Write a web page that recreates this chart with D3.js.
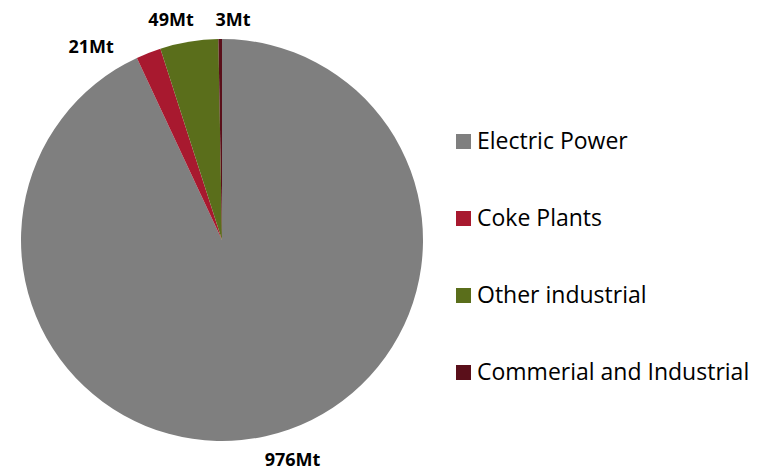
<!DOCTYPE html>
<html><head><meta charset="utf-8">
<script src="https://cdn.jsdelivr.net/npm/d3@7"></script>
<style>html,body{margin:0;padding:0;background:#fff;}svg{display:block;}</style>
</head><body>
<svg id="chart" width="764" height="470"></svg>
<script>
const categories = ["Electric Power", "Coke Plants", "Other industrial", "Commerial and Industrial"];
const values = [976, 21, 49, 3];
const valueLabels = ["976Mt", "21Mt", "49Mt", "3Mt"];
const colors = ["#7f7f7f", "#a8192f", "#5a6e1b", "#5a0f1a"];
// label nudges (layout) relative to the outside-end position
const labelNudge = [[23.5, 7.5], [-51.5, 8], [-15.4, -7], [13, -4]];

const svg = d3.select("#chart");
const cx = 222, cy = 240, r = 201;
const g = svg.append("g").attr("transform", `translate(${cx},${cy})`);

const pie = d3.pie().sort(null).value(d => d)(values);
const arc = d3.arc().innerRadius(0).outerRadius(r);

g.selectAll("path").data(pie).join("path")
  .attr("d", arc)
  .attr("fill", (d, i) => colors[i]);

const labelArc = d3.arc().innerRadius(r + 16).outerRadius(r + 16);
g.selectAll("text.val").data(pie).join("text")
  .attr("class", "val")
  .attr("x", (d, i) => labelArc.centroid(d)[0] + labelNudge[i][0])
  .attr("y", (d, i) => labelArc.centroid(d)[1] + labelNudge[i][1])
  .attr("text-anchor", "middle")
  .attr("dominant-baseline", "central")
  .attr("font-family", "'Open Sans', sans-serif")
  .attr("font-weight", "bold")
  .attr("font-size", 18)
  .attr("fill", "#000")
  .text((d, i) => valueLabels[i]);

const legY = d3.scalePoint().domain(categories).range([141.5, 372.5]);
const leg = svg.append("g");
const items = leg.selectAll("g").data(categories).join("g")
  .attr("transform", d => `translate(456,${legY(d)})`);
items.append("rect").attr("x", 0).attr("y", -7.5).attr("width", 15).attr("height", 15)
  .attr("fill", (d, i) => colors[i]);
items.append("text").attr("x", 21).attr("y", 7.5)
  .attr("font-family", "'Open Sans', sans-serif")
  .attr("font-size", 23)
  .attr("fill", "#000")
  .text(d => d);
</script>
</body></html>
